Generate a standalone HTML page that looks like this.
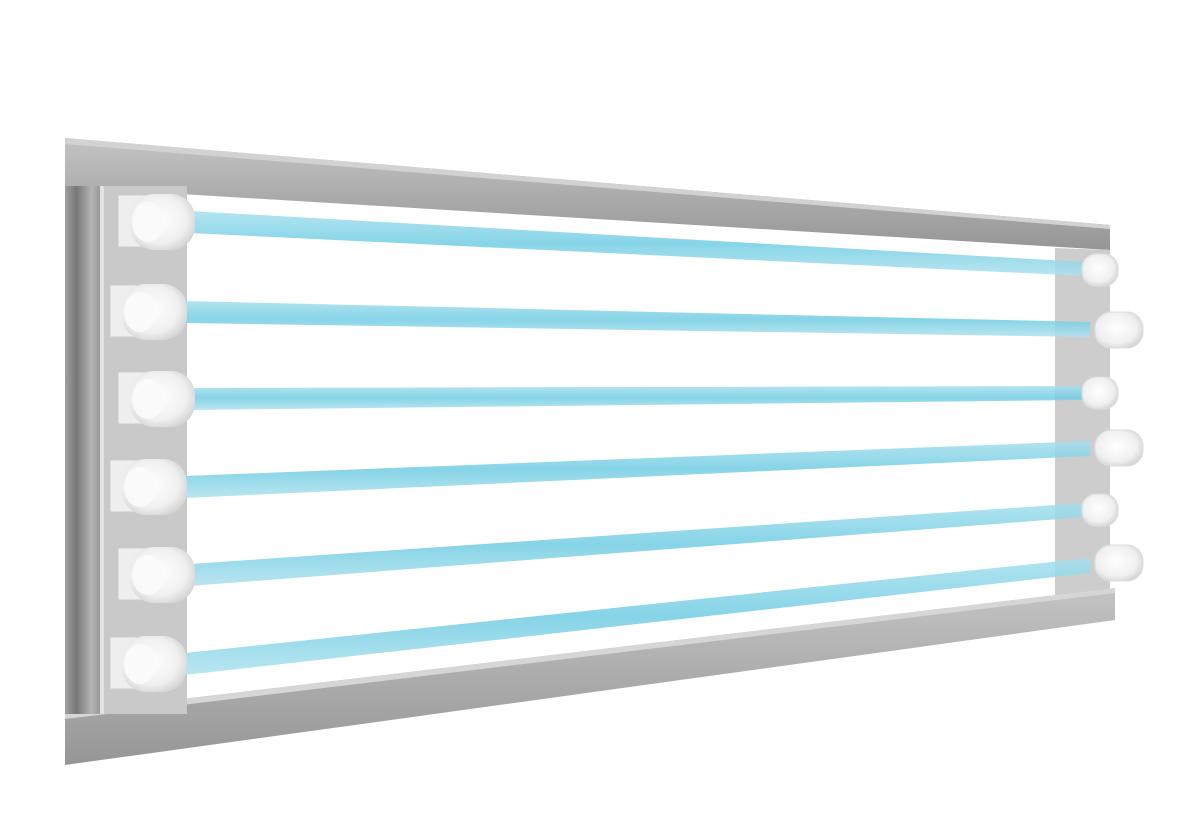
<!DOCTYPE html>
<html><head><style>html,body{margin:0;padding:0;background:#fff;width:1200px;height:829px;overflow:hidden}</style></head>
<body>
<svg width="1200" height="829" viewBox="0 0 1200 829" xmlns="http://www.w3.org/2000/svg">
<defs>
<linearGradient id="bar" x1="0" y1="0" x2="0" y2="1">
<stop offset="0" stop-color="#c4c4c4"/><stop offset="0.5" stop-color="#acacac"/><stop offset="1" stop-color="#969696"/></linearGradient>
<linearGradient id="side" x1="0" y1="0" x2="1" y2="0">
<stop offset="0" stop-color="#a0a0a0"/><stop offset="0.3" stop-color="#777"/><stop offset="0.7" stop-color="#b4b4b4"/><stop offset="1" stop-color="#909090"/></linearGradient>
<linearGradient id="tube" x1="0" y1="0" x2="0" y2="1">
<stop offset="0" stop-color="#a6e0ee"/><stop offset="0.5" stop-color="#72cde4"/><stop offset="1" stop-color="#aee2ee"/></linearGradient>
<radialGradient id="cap" cx="0.45" cy="0.45" r="0.6">
<stop offset="0" stop-color="#ffffff"/><stop offset="0.7" stop-color="#f0f0f0"/><stop offset="1" stop-color="#d4d4d4"/></radialGradient>
</defs>
<polygon points="65,138 1110,225 1110,250 65,187" fill="url(#bar)"/>
<polygon points="65,138 1110,225 1110,229 65,144" fill="#d2d2d2"/>
<polygon points="1055,248 1110,250 1110,592 1055,598" fill="#cdcdcd"/>
<polygon points="65,713 1115,588 1115,620 65,765" fill="url(#bar)"/>
<polygon points="65,713 1115,588 1115,593 65,719" fill="#d6d6d6"/>
<rect x="65" y="186" width="38" height="528" fill="url(#side)"/>
<rect x="100" y="186" width="87" height="528" fill="#c9c9c9"/>
<rect x="100" y="186" width="4" height="528" fill="#e2e2e2"/>
<g fill="url(#tube)" opacity="0.85">
<polygon points="190,211 1085,262 1085,276 190,233"/>
<polygon points="185,301 1090,322 1090,337 185,323"/>
<polygon points="190,388 1085,386 1085,400 190,410"/>
<polygon points="185,476 1090,441 1090,456 185,498"/>
<polygon points="190,564 1085,503 1085,517 190,586"/>
<polygon points="185,653 1090,558 1090,573 185,675"/>
</g>
<g>
<g transform="translate(0,222)"><rect x="118" y="-27" width="36" height="52" fill="#eee" stroke="#ccc"/><rect x="130" y="-28" width="65" height="56" rx="24" fill="url(#cap)"/><ellipse cx="148" cy="0" rx="16" ry="20" fill="#fafafa"/></g>
<g transform="translate(-8,312)"><rect x="118" y="-27" width="36" height="52" fill="#eee" stroke="#ccc"/><rect x="130" y="-28" width="65" height="56" rx="24" fill="url(#cap)"/><ellipse cx="148" cy="0" rx="16" ry="20" fill="#fafafa"/></g>
<g transform="translate(0,399)"><rect x="118" y="-27" width="36" height="52" fill="#eee" stroke="#ccc"/><rect x="130" y="-28" width="65" height="56" rx="24" fill="url(#cap)"/><ellipse cx="148" cy="0" rx="16" ry="20" fill="#fafafa"/></g>
<g transform="translate(-8,487)"><rect x="118" y="-27" width="36" height="52" fill="#eee" stroke="#ccc"/><rect x="130" y="-28" width="65" height="56" rx="24" fill="url(#cap)"/><ellipse cx="148" cy="0" rx="16" ry="20" fill="#fafafa"/></g>
<g transform="translate(0,575)"><rect x="118" y="-27" width="36" height="52" fill="#eee" stroke="#ccc"/><rect x="130" y="-28" width="65" height="56" rx="24" fill="url(#cap)"/><ellipse cx="148" cy="0" rx="16" ry="20" fill="#fafafa"/></g>
<g transform="translate(-8,664)"><rect x="118" y="-27" width="36" height="52" fill="#eee" stroke="#ccc"/><rect x="130" y="-28" width="65" height="56" rx="24" fill="url(#cap)"/><ellipse cx="148" cy="0" rx="16" ry="20" fill="#fafafa"/></g>
</g>
<g fill="url(#cap)" stroke="#ddd">
<rect x="1082" y="254" width="36" height="32" rx="14"/>
<rect x="1095" y="312" width="48" height="36" rx="16"/>
<rect x="1082" y="377" width="36" height="32" rx="14"/>
<rect x="1095" y="430" width="48" height="36" rx="16"/>
<rect x="1082" y="494" width="36" height="32" rx="14"/>
<rect x="1095" y="545" width="48" height="36" rx="16"/>
</g>
</svg>
</body></html>
